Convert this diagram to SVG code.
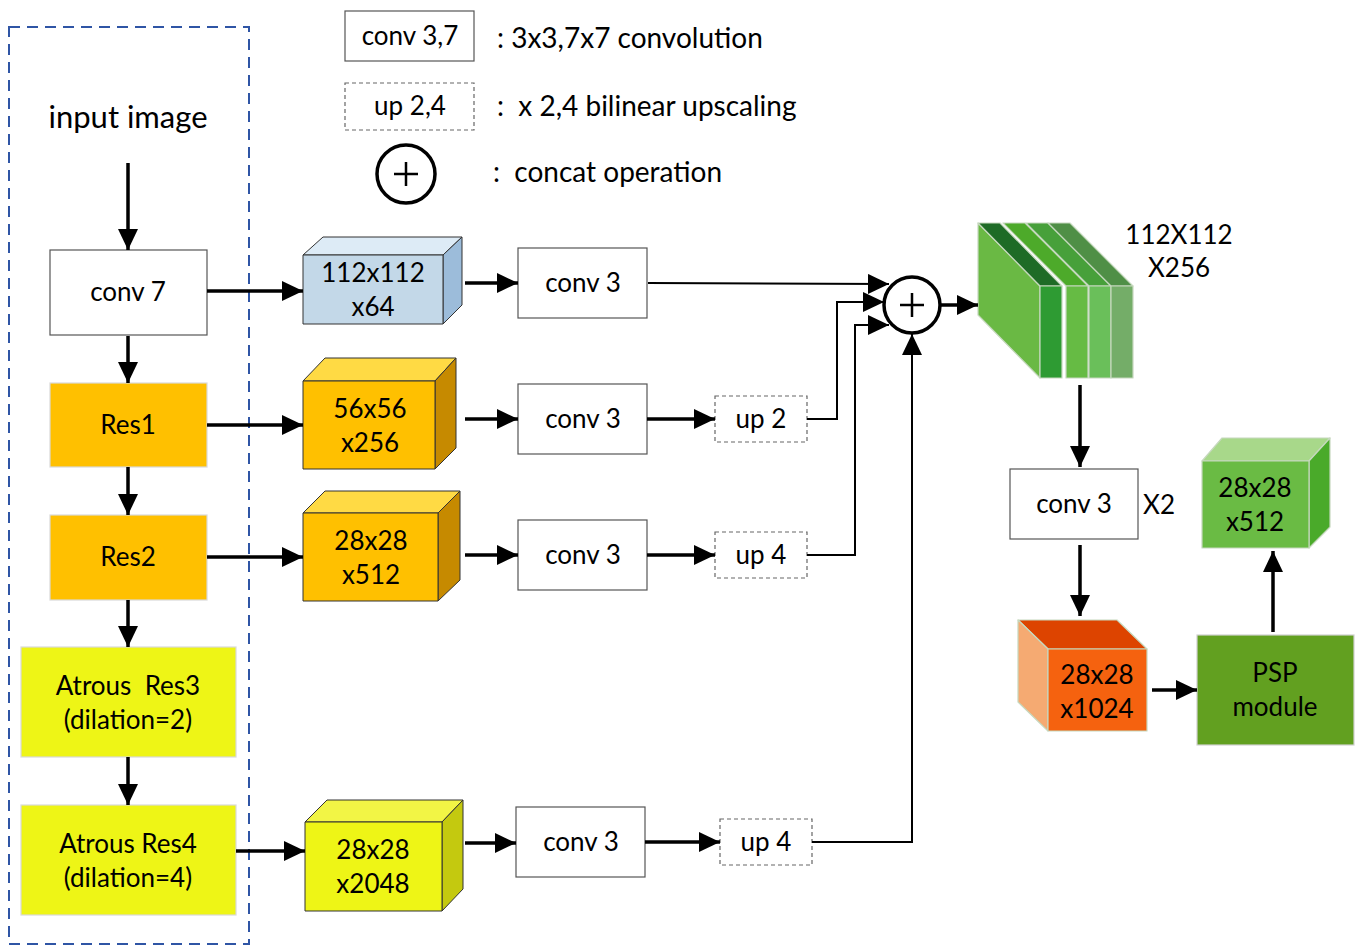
<svg xmlns="http://www.w3.org/2000/svg" width="1356" height="946" viewBox="0 0 1356 946">
<defs>
<marker id="ah" markerUnits="userSpaceOnUse" markerWidth="22" markerHeight="20" refX="21" refY="10" orient="auto">
<path d="M0,0 L21,10 L0,20 z" fill="#000"/>
</marker>
<style>
text{font-family:Lato,"Liberation Sans",sans-serif;fill:#000;text-anchor:middle;white-space:pre}
.t24{font-size:26px}
.t26{font-size:28px}
.box{fill:#fff;stroke:#555;stroke-width:1.2}
.dash{fill:#fff;stroke:#666;stroke-width:1.2;stroke-dasharray:4,3}
.res{fill:#FFC000;stroke:#D9D9D9;stroke-width:1.2}
.atr{fill:#EEF516;stroke:#D9D9D9;stroke-width:1.2}
.edge{stroke:#000;stroke-width:3.5;fill:none}
.arr{marker-end:url(#ah)}
.cs{stroke:#333;stroke-width:1;stroke-linejoin:round}
.gs{stroke:#C6D8BE;stroke-width:1.2;stroke-linejoin:round}
</style>
</defs>

<rect x="9" y="27" width="240" height="917" fill="none" stroke="#2F55A5" stroke-width="2" stroke-dasharray="11,7"/>

<g id="legend">
<rect class="box" x="345" y="11" width="129" height="50"/>
<text class="t24" x="410" y="45">conv 3,7</text>
<text class="t26" x="497" y="48" style="text-anchor:start">: 3x3,7x7 convolution</text>
<rect class="dash" x="345" y="83" width="129" height="47"/>
<text class="t24" x="410" y="115">up 2,4</text>
<text class="t26" x="497" y="116" style="text-anchor:start" xml:space="preserve">:  x 2,4 bilinear upscaling</text>
<circle cx="406" cy="174" r="29" fill="#fff" stroke="#000" stroke-width="3.5"/>
<path d="M394,174 H418 M406,162 V186" stroke="#000" stroke-width="2.5"/>
<text class="t26" x="493" y="182" style="text-anchor:start" xml:space="preserve">:  concat operation</text>
</g>

<g id="input"><text x="128" y="128" style="font-size:31px">input image</text></g>

<g id="conv7"><rect class="box" x="50" y="250" width="157" height="85"/><text class="t24" x="128" y="301">conv 7</text></g>
<g id="res1"><rect class="res" x="50" y="383" width="157" height="84"/><text class="t24" x="128" y="434">Res1</text></g>
<g id="res2"><rect class="res" x="50" y="515" width="157" height="85"/><text class="t24" x="128" y="566">Res2</text></g>
<g id="res3"><rect class="atr" x="21" y="647" width="215" height="110"/><text class="t24" x="128" y="695" xml:space="preserve">Atrous  Res3</text><text class="t24" x="128" y="729">(dilation=2)</text></g>
<g id="res4"><rect class="atr" x="21" y="805" width="215" height="110"/><text class="t24" x="128" y="853">Atrous Res4</text><text class="t24" x="128" y="887">(dilation=4)</text></g>

<g id="cube1">
<polygon class="cs" points="303,255 323,237 462,237 443,255" fill="#DDEBF6"/>
<polygon class="cs" points="443,255 462,237 462,305 443,324" fill="#9CBCDA"/>
<rect class="cs" x="303" y="255" width="140" height="69" fill="#C3D8E8"/>
<text class="t24" x="373" y="282">112x112</text><text class="t24" x="373" y="316">x64</text>
</g>
<g id="cube2">
<polygon class="cs" points="303,381 325,358 456,358 435,381" fill="#FFDA44"/>
<polygon class="cs" points="435,381 456,358 456,448 435,469" fill="#C68A00"/>
<rect class="cs" x="303" y="381" width="132" height="88" fill="#FFC000"/>
<text class="t24" x="370" y="418">56x56</text><text class="t24" x="370" y="452">x256</text>
</g>
<g id="cube3">
<polygon class="cs" points="303,513 325,491 460,491 438,513" fill="#FFDA44"/>
<polygon class="cs" points="438,513 460,491 460,580 438,601" fill="#C68A00"/>
<rect class="cs" x="303" y="513" width="135" height="88" fill="#FFC000"/>
<text class="t24" x="371" y="550">28x28</text><text class="t24" x="371" y="584">x512</text>
</g>
<g id="cube4">
<polygon class="cs" points="305,822 327,800 463,800 442,822" fill="#F2F545"/>
<polygon class="cs" points="442,822 463,800 463,889 442,911" fill="#C4C90F"/>
<rect class="cs" x="305" y="822" width="137" height="89" fill="#EEF516"/>
<text class="t24" x="373" y="859">28x28</text><text class="t24" x="373" y="893">x2048</text>
</g>

<g id="conv3a"><rect class="box" x="518" y="248" width="129" height="70"/><text class="t24" x="583" y="292">conv 3</text></g>
<g id="conv3b"><rect class="box" x="518" y="384" width="129" height="70"/><text class="t24" x="583" y="428">conv 3</text></g>
<g id="conv3c"><rect class="box" x="518" y="520" width="129" height="70"/><text class="t24" x="583" y="564">conv 3</text></g>
<g id="conv3d"><rect class="box" x="516" y="807" width="129" height="70"/><text class="t24" x="581" y="851">conv 3</text></g>

<g id="up2"><rect class="dash" x="715" y="396" width="92" height="46"/><text class="t24" x="761" y="428">up 2</text></g>
<g id="up4a"><rect class="dash" x="715" y="532" width="92" height="46"/><text class="t24" x="761" y="564">up 4</text></g>
<g id="up4b"><rect class="dash" x="720" y="819" width="92" height="46"/><text class="t24" x="766" y="851">up 4</text></g>

<g id="concat">
<circle cx="912" cy="305" r="28" fill="#fff" stroke="#000" stroke-width="3.5"/>
<path d="M900,305 H924 M912,293 V317" stroke="#000" stroke-width="2.5"/>
</g>

<g id="feat">
<polygon class="gs" points="978,223 1040,286 1040,378 978,315" fill="#6AB944"/>
<polygon class="gs" points="978,223 1000,223 1062,286 1040,286" fill="#1E6B26"/>
<rect class="gs" x="1040" y="286" width="22" height="92" fill="#2E9B33"/>
<polygon class="gs" points="1003,223 1025,223 1088,286 1066,286" fill="#4DAA2A"/>
<rect class="gs" x="1066" y="286" width="22" height="92" fill="#66BB44"/>
<polygon class="gs" points="1026,223 1048,223 1111,286 1089,286" fill="#47A03A"/>
<rect class="gs" x="1089" y="286" width="22" height="92" fill="#6ABF5A"/>
<polygon class="gs" points="1048,223 1070,223 1133,286 1111,286" fill="#4F8F46"/>
<rect class="gs" x="1111" y="286" width="22" height="92" fill="#74AD68"/>
<text class="t24" x="1179" y="244">112X112</text>
<text class="t24" x="1179" y="277">X256</text>
</g>

<g id="conv3e"><rect class="box" x="1010" y="469" width="128" height="70"/><text class="t24" x="1074" y="513">conv 3</text><text class="t24" x="1159" y="514">X2</text></g>

<g id="cube5">
<polygon class="gs" points="1018,620 1117,620 1147,649 1048,649" fill="#DD4400"/>
<polygon class="gs" points="1018,620 1048,649 1048,731 1018,702" fill="#F5AA72"/>
<rect class="gs" x="1048" y="649" width="99" height="82" fill="#F5620F"/>
<text class="t24" x="1097" y="684">28x28</text><text class="t24" x="1097" y="718">x1024</text>
</g>

<g id="psp"><rect x="1197" y="635" width="157" height="110" fill="#62A020" stroke="#D0D0D0" stroke-width="1.2"/><text class="t24" x="1275" y="682">PSP</text><text class="t24" x="1275" y="716">module</text></g>

<g id="cube6">
<polygon class="gs" points="1202,461 1222,438 1330,438 1309,461" fill="#A8D88A"/>
<polygon class="gs" points="1309,461 1330,438 1330,527 1309,548" fill="#4AAA2A"/>
<rect class="gs" x="1202" y="461" width="107" height="87" fill="#6ABB44"/>
<text class="t24" x="1255" y="497">28x28</text><text class="t24" x="1255" y="531">x512</text>
</g>

<g id="connectors">
<path class="edge arr" d="M128,163 V250"/>
<path class="edge arr" d="M128,336 V383"/>
<path class="edge arr" d="M128,467 V515"/>
<path class="edge arr" d="M128,600 V647"/>
<path class="edge arr" d="M128,757 V805"/>
<path class="edge arr" d="M207,291 H303"/>
<path class="edge arr" d="M207,425 H303"/>
<path class="edge arr" d="M207,557 H303"/>
<path class="edge arr" d="M236,851 H305"/>
<path class="edge arr" d="M465,283 H518"/>
<path class="edge arr" d="M465,419 H518"/>
<path class="edge arr" d="M465,555 H518"/>
<path class="edge arr" d="M465,843 H516"/>
<path class="edge arr" d="M647,419 H715"/>
<path class="edge arr" d="M647,555 H715"/>
<path class="edge arr" d="M645,842 H720"/>
<path class="arr" d="M648,283 L889,284" stroke="#000" stroke-width="2" fill="none"/>
<path class="arr" d="M807,419 H837 V302 H884" stroke="#000" stroke-width="2" fill="none"/>
<path class="arr" d="M807,555 H855 V325 H889" stroke="#000" stroke-width="2" fill="none"/>
<path class="arr" d="M812,842 H912 V334" stroke="#000" stroke-width="2" fill="none"/>
<path class="edge arr" d="M941,305 H978"/>
<path class="edge arr" d="M1080,385 V467"/>
<path class="edge arr" d="M1080,545 V616"/>
<path class="edge arr" d="M1152,690 H1197"/>
<path class="edge arr" d="M1273,632 V551"/>
</g>
</svg>
